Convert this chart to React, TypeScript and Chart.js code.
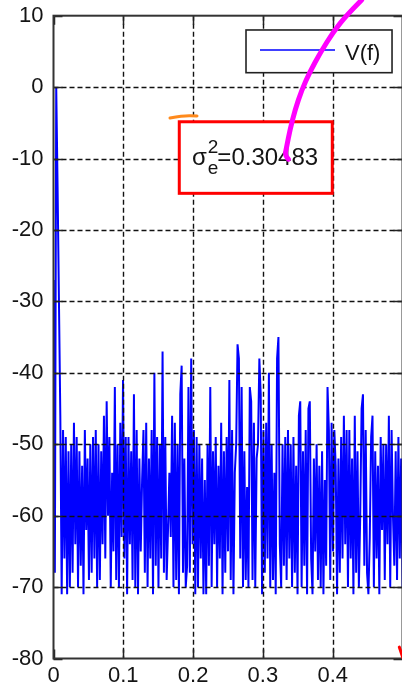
import React, { useEffect, useRef } from 'react';
import { Chart, registerables } from 'chart.js';

Chart.register(...registerables);

// ---- data ----
const xTickValues = [0, 0.1, 0.2, 0.3, 0.4, 0.5];
const xTickLabels = ['0', '0.1', '0.2', '0.3', '0.4', ''];
const yTickValues = [-80, -70, -60, -50, -40, -30, -20, -10, 0, 10];
const yTickLabels = ['-80', '-70', '-60', '-50', '-40', '-30', '-20', '-10', '0', '10'];

const FREQ_STEP = 0.5 / 256;

const vfA = [-27, -68, 0, -14, -30, -46, -71, -48, -66, -49, -71, -51, -70, -50, -68, -47, -64, -49, -70, -51, -67, -53, -71, -48, -62, -52, -69, -50, -68, -49, -66, -48, -70, -50, -69, -51, -64, -46, -66, -44, -60, -49, -70, -54];
const vfB = [-65, -42, -69, -50, -70, -47, -63, -41, -66, -49, -71, -49, -64, -51, -69, -43, -70, -48, -71, -52, -65, -55, -48, -68, -47, -70, -52, -66, -48, -71, -40, -67, -49, -70, -50, -66, -37, -68, -49, -69, -62, -54];
const vfC = [-63, -46, -70, -47, -69, -50, -71, -43, -39, -68, -52, -70, -67, -42, -68, -38, -64, -48, -71, -49, -70, -50, -66, -52, -71, -55, -71, -50, -67, -42, -70, -51, -64, -49, -70, -53, -66, -47, -71, -51, -68, -49];
const vfD = [-65, -41, -69, -48, -71, -54, -50, -36, -38, -66, -42, -70, -51, -69, -56, -70, -42, -44, -69, -47, -70, -52, -50, -38, -43, -71, -48, -68, -47, -66, -40, -70, -50, -69, -54, -71, -38, -35, -64, -70, -50, -67, -49];
const vfE = [-69, -48, -66, -50, -70, -49, -68, -53, -71, -46, -44, -70, -51, -67, -48, -71, -45, -44, -66, -71, -52, -65, -50, -69, -53, -70, -51, -71, -55, -67, -42, -48, -69, -47, -65, -48, -53, -71, -52, -68, -49, -66];
const vfF = [-46, -64, -48, -70, -48, -66, -52, -71, -46, -68, -51, -70, -60, -45, -43, -67, -48, -68, -71, -63, -49, -46, -70, -51, -66, -53, -71, -49, -62, -50, -69, -50, -64, -46, -70, -48, -60, -67, -51, -69, -49, -66, -52, -70, -61];
const vfValues = [...vfA, ...vfB, ...vfC, ...vfD, ...vfE, ...vfF];

const legendLabel = 'V(f)';
const noteSymbol = 'σ';
const noteSup = '2';
const noteSub = 'e';
const noteValue = '=0.30483';

// annotation anchors in data coordinates
const legendBox = { x0: 0.2758, x1: 0.485, y0: 8.0, y1: 2.02 };
const legendLine = { x0: 0.2958, x1: 0.4033, y: 5.2, textX: 0.4176, textY: 3.8 };
const noteBox = { x0: 0.1802, x1: 0.3994, y0: -4.85, y1: -14.87, textX: 0.1984, textY: -10.91 };
const orangeStroke = [[0.1669, -4.33], [0.186, -4.0], [0.2056, -4.05]];
const magentaStroke = [[0.4415, 12.2], [0.4201, 10.1], [0.401, 7.76], [0.3818, 4.74], [0.3675, 2.17], [0.3557, -0.39], [0.3461, -3.19], [0.3388, -5.99], [0.3341, -8.32], [0.3317, -9.49], [0.3365, -10.1]];
const redMark = [[0.4954, -78.4], [0.5005, -79.9]];

const FONT = '"Liberation Sans", Arial, Helvetica, sans-serif';
const TEXT_COLOR = '#141414';

const overlay = {
  id: 'overlay',
  afterDatasetsDraw(chart: any) {
    const { ctx, chartArea: a, scales } = chart;
    const xs = scales.x;
    const ys = scales.y;
    const px = (v: number) => xs.getPixelForValue(v);
    const py = (v: number) => ys.getPixelForValue(v);
    ctx.save();

    // dashed grid on top of the data
    ctx.strokeStyle = '#111';
    ctx.lineWidth = 1.4;
    ctx.setLineDash([5, 3]);
    xTickValues.forEach((v) => {
      if (v === xs.min || v === xs.max) return;
      const x = Math.round(px(v)) + 0.5;
      ctx.beginPath();
      ctx.moveTo(x, a.top);
      ctx.lineTo(x, a.bottom);
      ctx.stroke();
    });
    yTickValues.forEach((v) => {
      if (v === ys.min || v === ys.max) return;
      const y = Math.round(py(v)) + 0.5;
      ctx.beginPath();
      ctx.moveTo(a.left, y);
      ctx.lineTo(a.right, y);
      ctx.stroke();
    });
    ctx.setLineDash([]);

    // inward tick marks
    const tl = 9;
    ctx.strokeStyle = '#222';
    ctx.lineWidth = 1.5;
    xTickValues.forEach((v) => {
      const x = Math.round(px(v)) + 0.5;
      ctx.beginPath();
      ctx.moveTo(x, a.bottom);
      ctx.lineTo(x, a.bottom - tl);
      ctx.moveTo(x, a.top);
      ctx.lineTo(x, a.top + tl);
      ctx.stroke();
    });
    yTickValues.forEach((v) => {
      const y = Math.round(py(v)) + 0.5;
      ctx.beginPath();
      ctx.moveTo(a.left, y);
      ctx.lineTo(a.left + tl, y);
      ctx.moveTo(a.right, y);
      ctx.lineTo(a.right - tl, y);
      ctx.stroke();
    });

    // frame
    ctx.strokeStyle = '#333';
    ctx.lineWidth = 2;
    ctx.strokeRect(a.left, a.top, a.right - a.left, a.bottom - a.top);

    // legend
    {
      const x0 = px(legendBox.x0), x1 = px(legendBox.x1);
      const y0 = py(legendBox.y0), y1 = py(legendBox.y1);
      ctx.fillStyle = '#fff';
      ctx.fillRect(x0, y0, x1 - x0, y1 - y0);
      ctx.strokeStyle = '#222';
      ctx.lineWidth = 1.6;
      ctx.strokeRect(x0, y0, x1 - x0, y1 - y0);
      ctx.strokeStyle = '#0000ff';
      ctx.lineWidth = 1.5;
      ctx.beginPath();
      ctx.moveTo(px(legendLine.x0), py(legendLine.y));
      ctx.lineTo(px(legendLine.x1), py(legendLine.y));
      ctx.stroke();
      ctx.fillStyle = TEXT_COLOR;
      ctx.font = '22px ' + FONT;
      ctx.textAlign = 'left';
      ctx.textBaseline = 'alphabetic';
      ctx.fillText(legendLabel, px(legendLine.textX), py(legendLine.textY));
    }

    // note box
    {
      const x0 = px(noteBox.x0), x1 = px(noteBox.x1);
      const y0 = py(noteBox.y0), y1 = py(noteBox.y1);
      ctx.fillStyle = '#fff';
      ctx.fillRect(x0, y0, x1 - x0, y1 - y0);
      ctx.strokeStyle = '#ff0000';
      ctx.lineWidth = 3;
      ctx.strokeRect(x0, y0, x1 - x0, y1 - y0);
      ctx.fillStyle = TEXT_COLOR;
      ctx.textAlign = 'left';
      ctx.textBaseline = 'alphabetic';
      let tx = px(noteBox.textX);
      const ty = py(noteBox.textY);
      ctx.font = '24px ' + FONT;
      ctx.fillText(noteSymbol, tx, ty);
      tx += ctx.measureText(noteSymbol).width + 1;
      ctx.font = '19px ' + FONT;
      ctx.fillText(noteSup, tx, ty - 12);
      ctx.fillText(noteSub, tx, ty + 9);
      tx += Math.max(ctx.measureText(noteSup).width, ctx.measureText(noteSub).width) - 1;
      ctx.font = '24px ' + FONT;
      ctx.fillText(noteValue, tx, ty);
    }

    const strokePath = (pts: number[][], color: string, width: number) => {
      ctx.strokeStyle = color;
      ctx.lineWidth = width;
      ctx.lineCap = 'round';
      ctx.lineJoin = 'round';
      ctx.beginPath();
      const p = pts.map(([x, y]) => [px(x), py(y)]);
      ctx.moveTo(p[0][0], p[0][1]);
      for (let i = 1; i < p.length - 1; i++) {
        const mx = (p[i][0] + p[i + 1][0]) / 2;
        const my = (p[i][1] + p[i + 1][1]) / 2;
        ctx.quadraticCurveTo(p[i][0], p[i][1], mx, my);
      }
      ctx.lineTo(p[p.length - 1][0], p[p.length - 1][1]);
      ctx.stroke();
    };

    strokePath(orangeStroke, '#ff8a1c', 3);
    strokePath(magentaStroke, '#ff00ff', 5);
    strokePath(redMark, '#ff0000', 3);

    ctx.restore();
  },
};

export default function App() {
  const ref = useRef<HTMLCanvasElement | null>(null);

  useEffect(() => {
    if (!ref.current) return;
    Chart.defaults.font.family = FONT;
    const chart = new Chart(ref.current, {
      type: 'line',
      data: {
        datasets: [
          {
            label: legendLabel,
            data: vfValues.map((v, i) => ({ x: i * FREQ_STEP, y: v })),
            borderColor: '#0000ff',
            borderWidth: 2,
            pointRadius: 0,
            tension: 0,
            fill: false,
          },
        ],
      },
      options: {
        animation: false,
        responsive: false,
        devicePixelRatio: 1,
        layout: { padding: { top: 15.7, right: 7.5, bottom: 0, left: 0 } },
        plugins: {
          legend: { display: false },
          tooltip: { enabled: false },
        },
        scales: {
          x: {
            type: 'linear',
            min: 0,
            max: 0.5,
            afterBuildTicks: (s: any) => {
              s.ticks = xTickValues.map((v) => ({ value: v }));
            },
            afterFit: (s: any) => {
              s.height = 27.5;
              s.paddingLeft = 0;
              s.paddingRight = 0;
            },
            ticks: {
              autoSkip: false,
              maxRotation: 0,
              padding: 4,
              color: TEXT_COLOR,
              font: { size: 22, family: FONT },
              callback: (v: any) => xTickLabels[xTickValues.indexOf(Number(v))] ?? '',
            },
            grid: { display: false, drawTicks: false },
            border: { display: false },
          },
          y: {
            type: 'linear',
            min: -80,
            max: 10,
            afterBuildTicks: (s: any) => {
              s.ticks = yTickValues.map((v) => ({ value: v }));
            },
            afterFit: (s: any) => {
              s.width = 53.5;
              s.paddingTop = 0;
              s.paddingBottom = 0;
            },
            ticks: {
              autoSkip: false,
              padding: 10,
              color: TEXT_COLOR,
              font: { size: 22, family: FONT },
              callback: (v: any) => yTickLabels[yTickValues.indexOf(Number(v))] ?? '',
            },
            grid: { display: false, drawTicks: false },
            border: { display: false },
          },
        },
      },
      plugins: [overlay],
    });
    return () => chart.destroy();
  }, []);

  return (
    <div
      style={{
        position: 'absolute',
        left: 0,
        top: 0,
        width: 402,
        height: 686,
        overflow: 'hidden',
        background: '#fff',
      }}
    >
      <canvas ref={ref} width={410} height={686} style={{ display: 'block' }} />
    </div>
  );
}
